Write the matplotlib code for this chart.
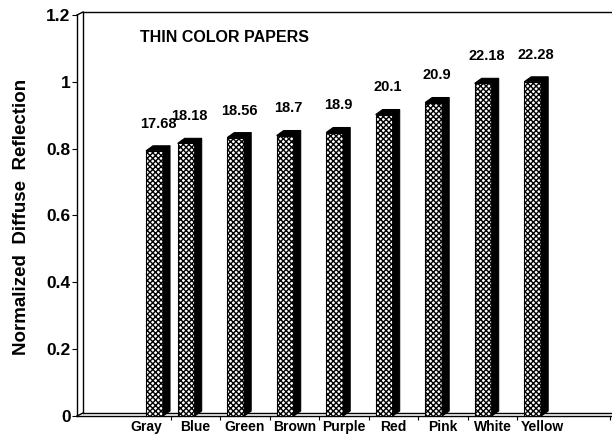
import numpy as np
import matplotlib
matplotlib.use('Agg')
import matplotlib.pyplot as plt
from matplotlib.patches import Polygon

# thin colour papers, diffuse reflection readings
papers = ['Gray', 'Blue', 'Green', 'Brown', 'Purple', 'Red', 'Pink', 'White', 'Yellow']
reflection = [17.68, 18.18, 18.56, 18.7, 18.9, 20.1, 20.9, 22.18, 22.28]
y_ticks = [0, 0.2, 0.4, 0.6, 0.8, 1.0, 1.2]
y_tick_labels = ['0', '0.2', '0.4', '0.6', '0.8', '1', '1.2']

# bars are normalised to the brightest paper
norm = np.array(reflection) / max(reflection)

plt.rcParams['font.family'] = ['Liberation Sans', 'DejaVu Sans']
plt.rcParams['font.weight'] = 'bold'
plt.rcParams['hatch.linewidth'] = 1.0

W, H = 612, 434
fig = plt.figure(figsize=(W / 100, H / 100), dpi=100)

# axes box in pixels: front y axis at x=77, floor at y=416
L, R, T, B = 77, 612, 15, 416
slot = 49.5
x0 = 146
ax = fig.add_axes([L / W, (H - B) / H, (R - L) / W, (B - T) / H])
xmin, xmax = (L - x0) / slot, (R - x0) / slot
ax.set_xlim(xmin, xmax)
ax.set_ylim(0, 1.2)

px_x = (xmax - xmin) / (R - L)
px_y = 1.2 / (B - T)

# back wall / floor outline for the 3D look
wx, wy = 6 * px_x, 3 * px_y
kw = dict(color='black', lw=1.0, clip_on=False, zorder=1)
ax.plot([xmin + wx, xmin + wx], [wy, 1.2 + wy], **kw)
ax.plot([xmin + wx, xmax], [1.2 + wy, 1.2 + wy], **kw)
ax.plot([xmin + wx, xmax], [wy, wy], **kw)
ax.plot([xmin, xmin + wx], [1.2, 1.2 + wy], **kw)
ax.plot([xmin, xmin + wx], [0, wy], **kw)

for s in ['top', 'right']:
    ax.spines[s].set_visible(False)
for s in ['left', 'bottom']:
    ax.spines[s].set_linewidth(1.0)

# bar geometry
idx = np.arange(len(papers))
bw = 17 * px_x
dx, dy = 7 * px_x, 5 * px_y
left = idx - 0.36
left[0] = idx[0] + 0.0

ax.bar(left, norm, width=bw, align='edge', facecolor='white',
       edgecolor='black', lw=0.8, hatch='xxxxxx', zorder=3)
for xl, h in zip(left, norm):
    side = Polygon([(xl + bw, 0), (xl + bw + dx, dy), (xl + bw + dx, h + dy), (xl + bw, h)],
                   closed=True, facecolor='black', edgecolor='black', lw=0.8, zorder=3)
    top = Polygon([(xl, h), (xl + dx, h + dy), (xl + bw + dx, h + dy), (xl + bw, h)],
                  closed=True, facecolor='black', edgecolor='black', lw=0.8, zorder=3)
    ax.add_patch(side)
    ax.add_patch(top)

for xl, h, v in zip(left, norm, reflection):
    ax.text(xl + (bw + dx) / 2, h + 0.06, f'{v:g}', ha='center', va='bottom',
            fontsize=10.5, fontweight='bold')

ax.set_yticks(y_ticks)
ax.set_yticklabels(y_tick_labels)
ax.tick_params(axis='y', direction='out', length=3.6, width=0.8, pad=1, labelsize=12.5)

ax.set_xticks(idx)
ax.set_xticklabels(papers)
ax.set_xticks(list(idx[:-1] + 0.5) + [(610 - x0) / slot], minor=True)
ax.tick_params(axis='x', which='major', length=0, pad=3, labelsize=10)
ax.tick_params(axis='x', which='minor', direction='out', length=3, width=0.8)

fig.text(140 / W, 1 - 38 / H, 'THIN COLOR PAPERS', ha='left', va='center',
         fontsize=11.5, fontweight='bold')
fig.text(22 / W, 1 - 217 / H, 'Normalized  Diffuse  Reflection', rotation=90,
         ha='center', va='center', fontsize=13.5, fontweight='bold')

fig.savefig('out.png', dpi=100)
